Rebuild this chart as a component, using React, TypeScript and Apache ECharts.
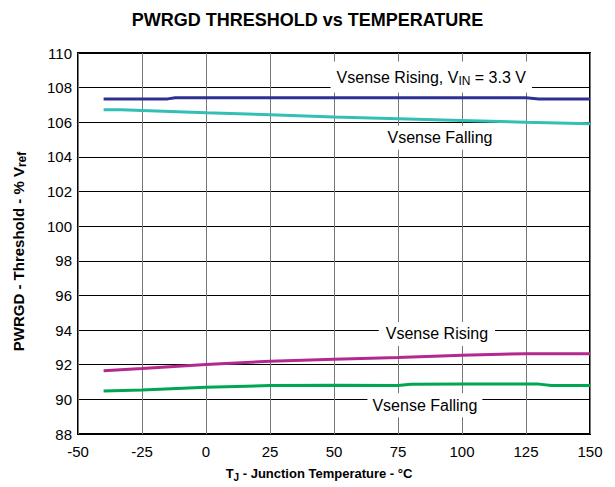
import React, { useEffect, useRef } from "react";
import * as echarts from "echarts";

const xTicks = { min: -50, max: 150, interval: 25 };
const yTicks = { min: 88, max: 110, interval: 2 };

const risingVinTemp = [-40, -25, -15, -12, 0, 25, 50, 75, 100, 125, 130, 150];
const risingVinVal = [107.35, 107.35, 107.35, 107.42, 107.42, 107.42, 107.42, 107.42, 107.42, 107.42, 107.35, 107.35];

const fallingHighTemp = [-40, -33, -25, 0, 25, 50, 75, 100, 125, 150];
const fallingHighVal = [106.72, 106.72, 106.68, 106.55, 106.44, 106.3, 106.2, 106.1, 106.0, 105.92];

const risingLowTemp = [-40, -25, 0, 25, 50, 75, 100, 125, 150];
const risingLowVal = [91.65, 91.78, 92.02, 92.2, 92.32, 92.42, 92.55, 92.64, 92.64];

const fallingLowTemp = [-40, -25, 0, 25, 50, 75, 80, 100, 130, 135, 150];
const fallingLowVal = [90.48, 90.54, 90.7, 90.8, 90.82, 90.8, 90.87, 90.88, 90.88, 90.8, 90.8];

const FONT = "Liberation Sans, Arial, sans-serif";

function zip(xs: number[], ys: number[]) {
  return xs.map((x, i) => [x, ys[i]]);
}

function annot(coord: number[], text: string, pad: number[]) {
  return {
    coord,
    symbol: "rect",
    symbolSize: 0,
    label: {
      show: true,
      position: "inside",
      formatter: text,
      color: "#000",
      fontFamily: FONT,
      fontSize: 16,
      backgroundColor: "#fff",
      padding: pad,
      rich: {
        sub: { fontSize: 12, fontFamily: FONT, color: "#000", verticalAlign: "bottom", padding: [7, 0, 0, 0] },
      },
    },
  };
}

export default function App() {
  const ref = useRef<HTMLDivElement>(null);
  useEffect(() => {
    if (!ref.current) return;
    const chart = echarts.init(ref.current, undefined, { renderer: "svg" });
    const lineSeries = (name: string, data: number[][], color: string, marks: any[]) => ({
      name,
      type: "line",
      data,
      symbol: "none",
      lineStyle: { color, width: 3 },
      z: 5,
      markPoint: marks.length
        ? { data: marks, silent: true, animation: false, z: 3 }
        : undefined,
    });
    chart.setOption({
      animation: false,
      backgroundColor: "#fff",
      title: {
        text: "PWRGD THRESHOLD vs TEMPERATURE",
        left: "center",
        top: 6,
        textStyle: { fontFamily: FONT, fontWeight: "bold", fontSize: 18, color: "#000" },
      },
      grid: {
        left: 78,
        right: 25,
        top: 53,
        bottom: 50,
        show: true,
        borderColor: "#000",
        borderWidth: 2,
        backgroundColor: "transparent",
      },
      xAxis: {
        type: "value",
        min: xTicks.min,
        max: xTicks.max,
        interval: xTicks.interval,
        axisLine: { show: false },
        axisTick: { show: false },
        axisLabel: { color: "#000", fontFamily: FONT, fontSize: 15, margin: 10 },
        splitLine: { show: true, lineStyle: { color: "#777", width: 1 } },
        name: "{b|T}{s|J}{b| - Junction Temperature - °C}",
        nameLocation: "middle",
        nameGap: 31,
        nameTextStyle: {
          padding: [0, 30, 0, 0],
          rich: {
            b: { fontFamily: FONT, fontWeight: "bold", fontSize: 13, color: "#000" },
            s: { fontFamily: FONT, fontWeight: "bold", fontSize: 10, color: "#000", verticalAlign: "bottom", padding: [7, 0, 0, 0] },
          },
        },
      },
      yAxis: {
        type: "value",
        min: yTicks.min,
        max: yTicks.max,
        interval: yTicks.interval,
        axisLine: { show: false },
        axisTick: { show: false },
        axisLabel: { color: "#000", fontFamily: FONT, fontSize: 15, margin: 6 },
        splitLine: { show: true, lineStyle: { color: "#000", width: 1 } },
        name: "{b|PWRGD - Threshold - % V}{s|ref}",
        nameLocation: "middle",
        nameGap: 50,
        nameTextStyle: {
          padding: [0, 16, 0, 0],
          rich: {
            b: { fontFamily: FONT, fontWeight: "bold", fontSize: 15, color: "#000" },
            s: { fontFamily: FONT, fontWeight: "bold", fontSize: 12, color: "#000", verticalAlign: "bottom", padding: [7, 0, 0, 0] },
          },
        },
      },
      series: [
        lineSeries("Vsense Rising, VIN = 3.3 V", zip(risingVinTemp, risingVinVal), "#2e3192", [
          annot([88, 108.62], "Vsense Rising, V{sub|IN} = 3.3 V", [7, 6, 5, 6]),
        ]),
        lineSeries("Vsense Falling (high)", zip(fallingHighTemp, fallingHighVal), "#33bfb5", [
          annot([91.4, 105.1], "Vsense Falling", [4, 5, 4, 5]),
        ]),
        lineSeries("Vsense Rising (low)", zip(risingLowTemp, risingLowVal), "#b5288e", [
          annot([90.2, 93.78], "Vsense Rising", [4, 7, 4, 7]),
        ]),
        lineSeries("Vsense Falling (low)", zip(fallingLowTemp, fallingLowVal), "#00a651", [
          annot([85.5, 89.66], "Vsense Falling", [4, 5, 4, 5]),
        ]),
      ],
    });
    return () => chart.dispose();
  }, []);
  return <div ref={ref} style={{ width: 615, height: 487, position: "absolute", left: 0, top: 0 }} />;
}
